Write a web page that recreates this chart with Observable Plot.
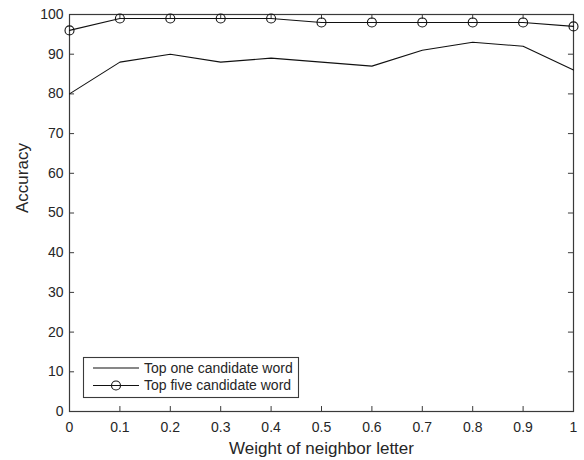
<!DOCTYPE html>
<html><head><meta charset="utf-8">
<script src="https://cdn.jsdelivr.net/npm/d3@7"></script>
<script src="https://cdn.jsdelivr.net/npm/@observablehq/plot@0.6"></script>
<style>body{margin:0;background:#fff;font-family:"Liberation Sans",Arial,sans-serif}</style>
</head><body><div id="chart"></div>
<script>
const weights = [0, 0.1, 0.2, 0.3, 0.4, 0.5, 0.6, 0.7, 0.8, 0.9, 1];
const topOne = [80, 88, 90, 88, 89, 88, 87, 91, 93, 92, 86];
const topFive = [96, 99, 99, 99, 99, 98, 98, 98, 98, 98, 97];
const seriesNames = ["Top one candidate word", "Top five candidate word"];
const xTicks = [0, 0.1, 0.2, 0.3, 0.4, 0.5, 0.6, 0.7, 0.8, 0.9, 1];
const yTicks = [0, 10, 20, 30, 40, 50, 60, 70, 80, 90, 100];

const one = weights.map((w, i) => ({w, v: topOne[i]}));
const five = weights.map((w, i) => ({w, v: topFive[i]}));
const axisColor = "#3a3a3a";
const tickLenX = 1.25; // in y units (~5px)
const tickLenY = 0.01; // in x units (~5px)

const plot = Plot.plot({
  width: 584, height: 460,
  marginLeft: 69, marginRight: 11, marginTop: 14, marginBottom: 49,
  style: {fontFamily: "Liberation Sans, Arial, sans-serif", fontSize: "14px", color: "#262626", background: "#fff"},
  x: {domain: [0, 1], ticks: xTicks, label: null},
  y: {domain: [0, 100], ticks: yTicks, label: null},
  marks: [
    Plot.frame({stroke: axisColor, strokeWidth: 1.2}),
    Plot.ruleX(xTicks, {x: d => d, y1: 0, y2: tickLenX, stroke: axisColor}),
    Plot.ruleX(xTicks, {x: d => d, y1: 100, y2: 100 - tickLenX, stroke: axisColor}),
    Plot.ruleY(yTicks, {y: d => d, x1: 0, x2: tickLenY, stroke: axisColor}),
    Plot.ruleY(yTicks, {y: d => d, x1: 1, x2: 1 - tickLenY, stroke: axisColor}),
    Plot.axisX({ticks: xTicks, tickSize: 0, tickPadding: 11, tickFormat: d => String(d), fontSize: 14, label: null}),
    Plot.axisY({ticks: yTicks, tickSize: 0, tickPadding: 6, fontSize: 14, label: null}),
    Plot.line(one, {x: "w", y: "v", stroke: "#111", strokeWidth: 1.1}),
    Plot.line(five, {x: "w", y: "v", stroke: "#111", strokeWidth: 1.1}),
    Plot.dot(five, {x: "w", y: "v", r: 4.5, stroke: "#111", fill: "none", strokeWidth: 1.1}),
    Plot.text(["Weight of neighbor letter"], {frameAnchor: "bottom", dy: 42, fontSize: 17, fill: "#262626"}),
    Plot.text(["Accuracy"], {frameAnchor: "left", dx: -47, rotate: -90, fontSize: 17, fill: "#262626"})
  ]
});

// legend (MATLAB style box, lower left)
const svg = d3.select(plot);
const g = svg.append("g").attr("font-family", "Liberation Sans, Arial, sans-serif").attr("font-size", 14).attr("fill", "#262626").attr("text-anchor", "start");
g.append("rect").attr("x", 83.5).attr("y", 357.5).attr("width", 215).attr("height", 40)
  .attr("fill", "#fff").attr("stroke", axisColor).attr("stroke-width", 1.1);
seriesNames.forEach((name, i) => {
  const yy = 368 + i * 17.5;
  g.append("line").attr("x1", 93).attr("x2", 139).attr("y1", yy).attr("y2", yy).attr("stroke", "#111").attr("stroke-width", 1.1);
  if (i === 1) g.append("circle").attr("cx", 116).attr("cy", yy).attr("r", 4.5).attr("fill", "none").attr("stroke", "#111").attr("stroke-width", 1.1);
  g.append("text").attr("x", 144).attr("y", yy).attr("dy", "0.35em").text(name);
});
document.getElementById("chart").appendChild(plot);
</script></body></html>
